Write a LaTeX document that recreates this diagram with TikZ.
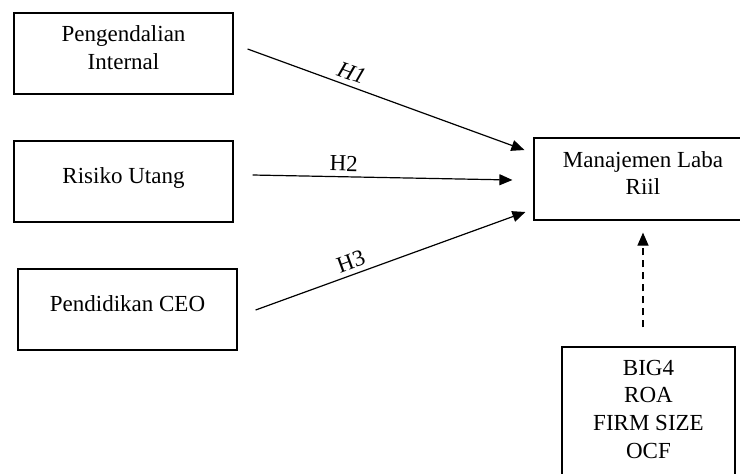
\documentclass[tikz,border=0pt]{standalone}
\usepackage{fontspec}
\setmainfont{Liberation Serif}
\usepackage{tikz}
\usetikzlibrary{arrows.meta}

\tikzset{
  var/.style={draw, line width=0.6pt, align=center, text depth=6pt,
    minimum width=109.5pt, minimum height=40.5pt, inner sep=0pt,
    font=\fontsize{11.5}{13.8}\selectfont},
  link/.style={line width=0.6pt, -{Triangle[length=6.5pt,width=5.5pt]}},
  hyp/.style={above, sloped, inner sep=2.5pt, font=\fontsize{11.5}{13.8}\selectfont}
}

\begin{document}
\begin{tikzpicture}[x=0.5pt, y=-0.5pt]
\useasboundingbox (0,0) rectangle (740,473);
% independent variables
\node[var] (pi) at (123.5,53.5) {Pengendalian\\Internal};
\node[var] (ru) at (123.5,181.5) {Risiko Utang};
\node[var] (pc) at (127.5,309.5) {Pendidikan CEO};
% dependent and control
\node[var, minimum width=109pt, minimum height=41pt] (mlr) at (643,179) {Manajemen Laba\\Riil};
\node[var, minimum width=86.5pt, minimum height=68pt] (ctrl) at (648.5,415) {BIG4\\ROA\\FIRM SIZE\\OCF};
% hypotheses
\draw[link] ([xshift=7pt,yshift=2.25pt]pi.east) -- ([xshift=-4.5pt,yshift=14.5pt]mlr.west)
  node[hyp, pos=0.36] {\textit{H1}};
\draw[link] ([xshift=9.5pt,yshift=3.25pt]ru.east) -- ([xshift=-10.5pt,yshift=-0.5pt]mlr.west)
  node[hyp, pos=0.35] {H2};
\draw[link] ([xshift=9pt,yshift=-0.25pt]pc.east) -- ([xshift=-4pt,yshift=-16.5pt]mlr.west)
  node[hyp, pos=0.37] {H3};
\draw[link, dash pattern=on 3.5pt off 2.5pt] ([xshift=-2.75pt,yshift=9.5pt]ctrl.north) -- ([yshift=-6pt]mlr.south);
\end{tikzpicture}
\end{document}
